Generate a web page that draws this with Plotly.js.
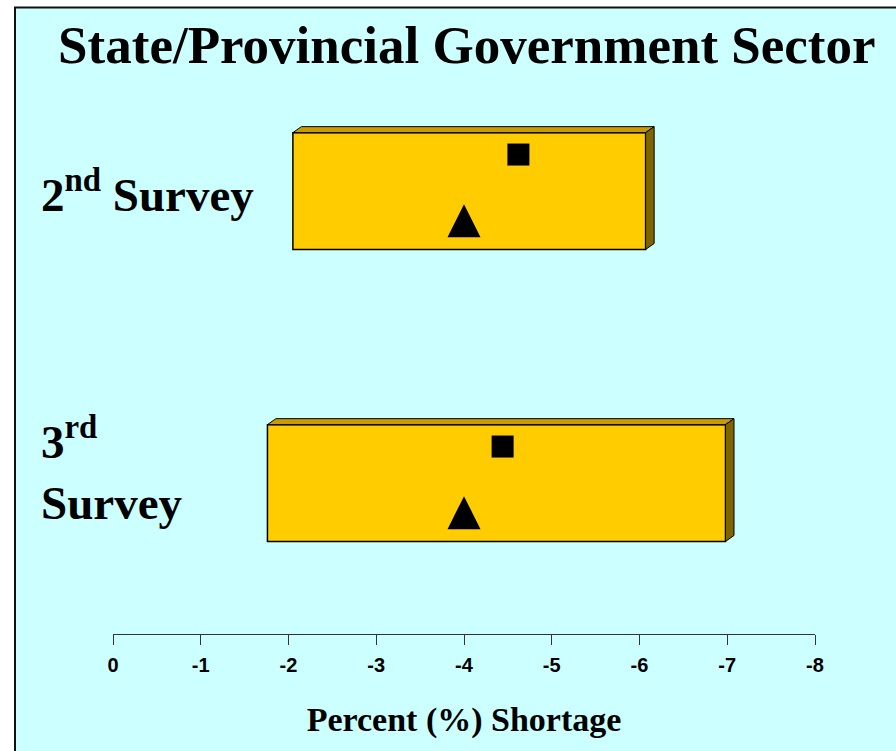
<!DOCTYPE html>
<html>
<head>
<meta charset="utf-8">
<script src="https://cdn.plot.ly/plotly-3.0.1.min.js"></script>
<style>html,body{margin:0;padding:0;background:#fff;}#chart{width:896px;height:751px;}</style>
</head>
<body>
<div id="chart"></div>
<script>
// ---- data ----
var categories = ["2<sup>nd</sup> Survey", "3<sup>rd</sup><br>Survey"];
var rangeLow  = [-2.05, -1.76];
var rangeHigh = [-6.07, -6.98];
var squareValues   = [-4.62, -4.44];
var triangleValues = [-4.00, -4.00];
var tickValues = [0, -1, -2, -3, -4, -5, -6, -7, -8];
var tickLabels = ["0", "-1", "-2", "-3", "-4", "-5", "-6", "-7", "-8"];
var titleText = "State/Provincial Government Sector";
var xTitleText = "Percent (%) Shortage";

// ---- style constants ----
var BAR_W = 0.4, DX = -0.097, DY = -0.0205;
var SQ_OFF = -0.125, TRI_OFF = 0.045;
var pos = categories.map(function(_, i){ return i; });

var traces = [];
traces.push({
  type: 'bar', orientation: 'h',
  y: pos,
  base: rangeLow,
  x: rangeLow.map(function(lo, i){ return rangeHigh[i] - lo; }),
  width: BAR_W,
  marker: {color: '#FFCC00', line: {color: '#000', width: 1.5}},
  hoverinfo: 'skip', showlegend: false
});
// 3D top and side faces
pos.forEach(function(p, i){
  var lo = rangeLow[i], hi = rangeHigh[i];
  var top = p - BAR_W / 2, bot = p + BAR_W / 2;
  traces.push({
    type: 'scatter', mode: 'lines', fill: 'toself', fillcolor: '#C89B00',
    x: [lo, hi, hi + DX, lo + DX, lo],
    y: [top, top, top + DY, top + DY, top],
    line: {color: '#000', width: 1}, hoverinfo: 'skip', showlegend: false
  });
  traces.push({
    type: 'scatter', mode: 'lines', fill: 'toself', fillcolor: '#7F6500',
    x: [hi, hi + DX, hi + DX, hi, hi],
    y: [top, top + DY, bot + DY, bot, top],
    line: {color: '#000', width: 1}, hoverinfo: 'skip', showlegend: false
  });
});
traces.push({
  type: 'scatter', mode: 'markers',
  x: squareValues, y: pos.map(function(p){ return p + SQ_OFF; }),
  marker: {symbol: 'square', size: 22, color: '#000'},
  hoverinfo: 'x', showlegend: false
});
traces.push({
  type: 'scatter', mode: 'markers',
  x: triangleValues, y: pos.map(function(p){ return p + TRI_OFF; }),
  marker: {symbol: 'arrow-up', size: 33, color: '#000', line: {width: 0}},
  hoverinfo: 'x', showlegend: false
});

var serif = 'Liberation Serif, Times New Roman, serif';
var sans = 'Liberation Sans, Arial, sans-serif';

var annotations = categories.map(function(c, i){
  return {
    text: c, xref: 'paper', yref: 'y', x: -0.105, y: pos[i],
    xanchor: 'left', yanchor: 'middle', align: 'left', showarrow: false,
    yshift: i === 1 ? 14 : 0,
    font: {family: serif, size: 47, color: '#000', weight: 'bold'}
  };
});

var layout = {
  width: 896, height: 751,
  margin: {l: 113, r: 81, t: 90, b: 117, pad: 0},
  paper_bgcolor: '#ffffff',
  plot_bgcolor: 'rgba(0,0,0,0)',
  showlegend: false,
  font: {family: sans, size: 18, color: '#000'},
  title: {
    text: titleText, xref: 'container', yref: 'container',
    x: 0.521, xanchor: 'center', y: 0.941, yanchor: 'middle',
    font: {family: serif, size: 53, color: '#000', weight: 'bold'}
  },
  xaxis: {
    range: [0, -8], tickmode: 'array', tickvals: tickValues,
    ticktext: tickLabels.map(function(t){ return '<b>' + t + '</b>'; }),
    showgrid: false, zeroline: false, showline: true, linecolor: '#333', linewidth: 1,
    ticks: 'outside', ticklen: 10, tickcolor: '#333', tickwidth: 1,
    ticklabelstandoff: 3,
    tickfont: {family: sans, size: 20, color: '#000'},
    title: {text: xTitleText, standoff: 32,
            font: {family: serif, size: 34, color: '#000', weight: 'bold'}},
    fixedrange: true
  },
  yaxis: {
    range: [1.517, -0.346], visible: false, showgrid: false, zeroline: false, fixedrange: true
  },
  shapes: [{
    type: 'rect', xref: 'paper', yref: 'paper', layer: 'below',
    x0: (15 - 113) / 702, x1: 1.5, y0: -0.5, y1: (634 - 7.5) / 544,
    fillcolor: '#CCFFFF', line: {color: '#111', width: 2}
  }],
  annotations: annotations,
  bargap: 0
};

Plotly.newPlot('chart', traces, layout, {displayModeBar: false, staticPlot: true});
</script>
</body>
</html>
